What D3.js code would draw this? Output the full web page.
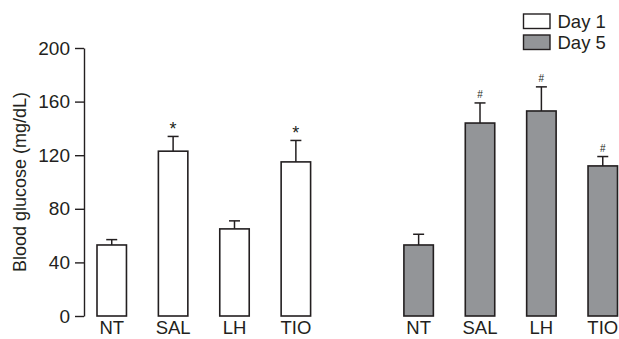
<!DOCTYPE html>
<html>
<head>
<meta charset="utf-8">
<script src="https://cdn.jsdelivr.net/npm/d3@7/dist/d3.min.js"></script>
<style>
  html, body { margin: 0; padding: 0; background: #fff; }
  svg { display: block; font-family: "Liberation Sans", Arial, Helvetica, sans-serif; }
</style>
</head>
<body>
<svg id="chart" width="619" height="339"></svg>
<script>
// Blood glucose by treatment group, Day 1 vs Day 5
const groups = ["NT", "SAL", "LH", "TIO"];
const day1Mean = [53, 123, 65, 115];
const day1Sem = [4, 11, 6, 16];
const day1Marks = ["", "*", "", "*"];
const day5Mean = [53, 144, 153, 112];
const day5Sem = [8, 15, 18, 7];
const day5Marks = ["", "#", "#", "#"];
const yTicks = [0, 40, 80, 120, 160, 200];
const seriesNames = ["Day 1", "Day 5"];

const ink = "#231f20";
const fills = ["#ffffff", "#939598"];

const svg = d3.select("#chart");

// Nine slots: four Day 1 bars, an empty gap, four Day 5 bars
const slots = [
  ...groups.map(g => "d1-" + g),
  "gap",
  ...groups.map(g => "d5-" + g)
];
const x = d3.scaleBand().domain(slots).range([97, 617.5]).paddingInner(0.52).paddingOuter(0);
const y = d3.scaleLinear().domain([0, 200]).range([316, 48]);

const rows = [];
groups.forEach((g, i) => rows.push({ key: "d1-" + g, label: g, mean: day1Mean[i], sem: day1Sem[i], mark: day1Marks[i], s: 0 }));
groups.forEach((g, i) => rows.push({ key: "d5-" + g, label: g, mean: day5Mean[i], sem: day5Sem[i], mark: day5Marks[i], s: 1 }));

// Y axis
const yAxis = d3.axisLeft(y).tickValues(yTicks).tickSize(9).tickSizeOuter(0).tickPadding(5);
const ga = svg.append("g").attr("transform", "translate(84,0)").call(yAxis);
ga.select(".domain").attr("stroke", ink).attr("stroke-width", 1.4);
ga.selectAll(".tick line").attr("stroke", ink).attr("stroke-width", 1.4);
ga.selectAll(".tick text").attr("fill", ink).attr("font-size", 19)
  .attr("font-family", "Liberation Sans, Arial, sans-serif");

svg.append("text")
  .attr("transform", `translate(26,${(48 + 316) / 2}) rotate(-90)`)
  .attr("text-anchor", "middle")
  .attr("font-size", 18)
  .attr("fill", ink)
  .text("Blood glucose (mg/dL)");

// Error bars (drawn first so bar outlines sit on top)
const capW = 11;
const err = svg.append("g").attr("stroke", ink).attr("stroke-width", 1.5);
rows.forEach(d => {
  const cx = x(d.key) + x.bandwidth() / 2;
  err.append("line").attr("x1", cx).attr("x2", cx).attr("y1", y(d.mean)).attr("y2", y(d.mean + d.sem));
  err.append("line").attr("x1", cx - capW / 2).attr("x2", cx + capW / 2)
    .attr("y1", y(d.mean + d.sem)).attr("y2", y(d.mean + d.sem));
});

// Bars
svg.append("g").selectAll("rect").data(rows).join("rect")
  .attr("x", d => x(d.key))
  .attr("width", x.bandwidth())
  .attr("y", d => y(d.mean))
  .attr("height", d => y(0) - y(d.mean))
  .attr("fill", d => fills[d.s])
  .attr("stroke", ink)
  .attr("stroke-width", 1.6);

// Significance marks
svg.append("g").selectAll("text").data(rows.filter(d => d.mark)).join("text")
  .attr("x", d => x(d.key) + x.bandwidth() / 2)
  .attr("y", d => y(d.mean + d.sem) - (d.mark === "*" ? 1 : 5))
  .attr("text-anchor", "middle")
  .attr("font-size", d => d.mark === "*" ? 18 : 10)
  .attr("fill", ink)
  .text(d => d.mark);

// Category labels
svg.append("g").selectAll("text").data(rows).join("text")
  .attr("x", d => x(d.key) + x.bandwidth() / 2)
  .attr("y", 334)
  .attr("text-anchor", "middle")
  .attr("font-size", 18.5)
  .attr("fill", ink)
  .text(d => d.label);

// Legend
const legend = svg.append("g").attr("transform", "translate(523.5,14)");
seriesNames.forEach((name, i) => {
  const row = legend.append("g").attr("transform", `translate(0,${i * 21})`);
  row.append("rect").attr("width", 26.5).attr("height", 14.5)
    .attr("fill", fills[i]).attr("stroke", ink).attr("stroke-width", 1.4);
  row.append("text").attr("x", 34).attr("y", 14)
    .attr("font-size", 18.5).attr("fill", ink).text(name);
});
</script>
</body>
</html>
